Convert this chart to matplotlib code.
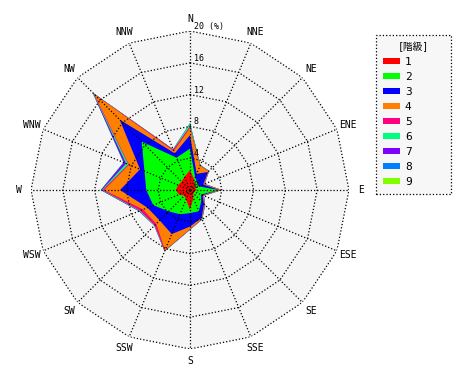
import numpy as np
import matplotlib
matplotlib.use("Agg")
import matplotlib.pyplot as plt
from matplotlib.patches import Patch

plt.rcParams['font.family'] = ['DejaVu Sans Mono', 'Noto Sans CJK JP']

# wind directions, clockwise from north
directions = ["N", "NNE", "NE", "ENE", "E", "ESE", "SE", "SSE",
              "S", "SSW", "SW", "WSW", "W", "WNW", "NW", "NNW"]

# frequency (%) of each class per direction
class1 = [2.5, 1.4, 0.8, 0.7, 0.85, 0.6, 0.6, 1.1, 2.5, 1.3, 1.0, 1.5, 1.8, 1.6, 1.5, 1.8]
class2 = [2.7, 0.3, 0.5, 0.5, 2.75, 0.9, 1.4, 1.8, 0.4, 2.0, 2.8, 3.5, 3.7, 4.6, 7.1, 2.6]
class3 = [1.7, 0.5, 1.9, 0.6, 0.05, 0.2, 0.5, 0.9, 1.7, 2.7, 1.6, 0.8, 3.3, 0.6, 3.9, 0.6]
class4 = [0.9, 1.1, 0.1, 0.1, 0.25, 0.1, 0.1, 0.1, 0.3, 2.2, 0.6, 0.6, 2.0, 1.5, 4.5, 0.3]
class5 = [0.2, 0.05, 0.05, 0.05, 0.05, 0.05, 0.05, 0.05, 0.05, 0.1, 0.3, 0.4, 0.2, 0.1, 0.2, 0.2]
class6 = [0.4, 0.05, 0.05, 0.05, 0.05, 0.05, 0.05, 0.05, 0.05, 0.05, 0.05, 0.1, 0.1, 0.3, 0.05, 0.05]
class7 = [0.0, 0.0, 0.0, 0.0, 0.0, 0.0, 0.0, 0.0, 0.0, 0.0, 0.0, 0.05, 0.1, 0.3, 0.05, 0.0]
class8 = [0.0, 0.0, 0.0, 0.0, 0.0, 0.0, 0.0, 0.0, 0.0, 0.0, 0.0, 0.0, 0.03, 0.05, 0.02, 0.0]
class9 = [0.0, 0.0, 0.0, 0.0, 0.0, 0.0, 0.0, 0.0, 0.0, 0.0, 0.0, 0.0, 0.02, 0.02, 0.03, 0.0]

class_labels = ["1", "2", "3", "4", "5", "6", "7", "8", "9"]
class_colors = ["#ff0000", "#00ff00", "#0000ff", "#ff8000", "#ff0080",
                "#00ff80", "#8000ff", "#0080ff", "#80ff00"]

ring_values = [4, 8, 12, 16, 20]

classes = np.array([class1, class2, class3, class4, class5,
                    class6, class7, class8, class9])
cum = np.cumsum(classes, axis=0)

theta = np.deg2rad(np.arange(16) * 22.5)
theta_c = np.append(theta, theta[0])

fig = plt.figure(figsize=(4.7, 3.8), dpi=100)
ax = fig.add_axes([31 / 470, 31 / 380, 318 / 470, 318 / 380], projection='polar')
ax.set_theta_zero_location('N')
ax.set_theta_direction(-1)
ax.set_ylim(0, 20)
ax.grid(False)
ax.set_xticks([])
ax.set_yticks([])
ax.spines['polar'].set_visible(False)
ax.patch.set_visible(False)

# grey background inside the outer ring
ax.fill(theta_c, np.full(17, 20), color='#f5f5f5', lw=0, zorder=0)

# stacked areas, outermost first
for i in range(len(classes) - 1, -1, -1):
    r = np.append(cum[i], cum[i][0])
    ax.fill(theta_c, r, color=class_colors[i], lw=0, zorder=1)

# polygon grid and spokes
dot = (0, (1, 1.6))
for rv in ring_values:
    ax.plot(theta_c, np.full(17, rv), color='black', lw=0.9, ls=dot, zorder=3)
for t in theta:
    ax.plot([t, t], [0, 20], color='black', lw=0.9, ls=dot, zorder=3)

# direction labels
for t, d in zip(theta, directions):
    ax.text(t, 21.5, d, ha='center', va='center', fontsize=7, clip_on=False)

# radial labels
radial_labels = ["0", "4", "8", "12", "16", "20 (%)"]
for rv, lab in zip([0] + ring_values, radial_labels):
    ax.annotate(lab, xy=(0, rv), xytext=(4, 0), textcoords='offset pixels',
                ha='left', va='bottom', fontsize=6, zorder=4,
                annotation_clip=False)

handles = [Patch(facecolor=c, edgecolor='none') for c in class_colors]
leg_h = 0.1
leg = fig.legend(handles, class_labels, title="[階級]",
                 loc='upper left',
                 bbox_to_anchor=(376 / 470, 1 - 35 / 380 - leg_h, 75 / 470, leg_h),
                 mode='expand', fontsize=8, title_fontsize=7,
                 handlelength=1.6, handleheight=0.45, labelspacing=0.45,
                 handletextpad=0.4, borderpad=0.6, borderaxespad=0,
                 fancybox=False, framealpha=1, edgecolor='black')
leg.get_frame().set_facecolor('#f7f7f7')
leg.get_frame().set_linestyle(':')
leg.get_frame().set_linewidth(0.9)

fig.savefig("out.png", dpi=100)
